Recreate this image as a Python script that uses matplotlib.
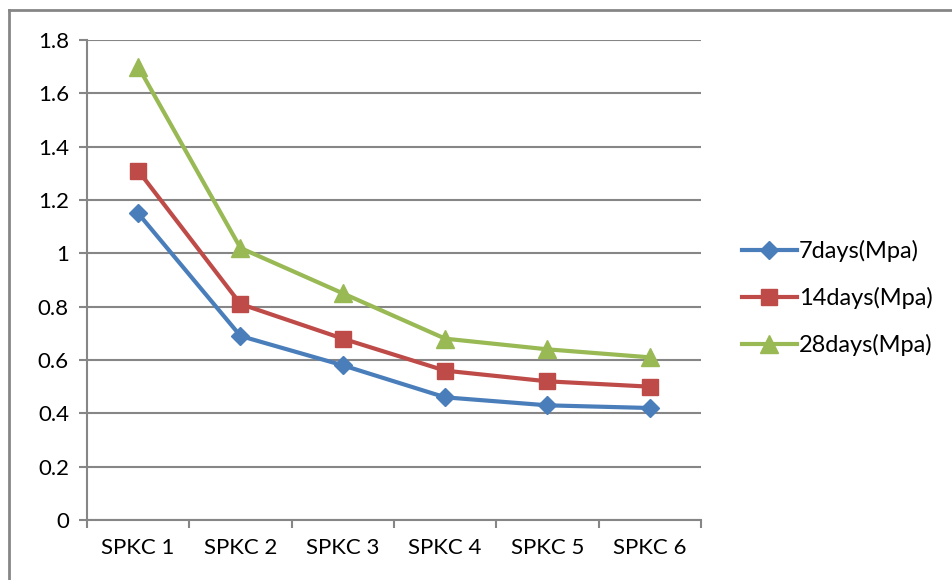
import numpy as np
import matplotlib.pyplot as plt
from matplotlib.lines import Line2D

plt.rcParams['font.family'] = ['Lato', 'DejaVu Sans']

categories = ['SPKC 1', 'SPKC 2', 'SPKC 3', 'SPKC 4', 'SPKC 5', 'SPKC 6']
days7 = [1.15, 0.69, 0.58, 0.46, 0.43, 0.42]
days14 = [1.31, 0.81, 0.68, 0.56, 0.52, 0.50]
days28 = [1.70, 1.02, 0.85, 0.68, 0.64, 0.61]
series_names = ['7days(Mpa)', '14days(Mpa)', '28days(Mpa)']
yticks = [0, 0.2, 0.4, 0.6, 0.8, 1, 1.2, 1.4, 1.6, 1.8]

fig = plt.figure(figsize=(9.53, 5.8), dpi=100)
ax = fig.add_axes([87/953, 1-520/580, (701-87)/953, (520-40)/580])

x = np.arange(len(categories))
ax.plot(x, days7, color='#4A7EBB', lw=3, marker='D', ms=9, label=series_names[0])
ax.plot(x, days14, color='#BE4B48', lw=3, marker='s', ms=12, label=series_names[1])
ax.plot(x, days28, color='#98B954', lw=3, marker='^', ms=13, label=series_names[2])

ax.set_xlim(-0.5, len(categories) - 0.5)
ax.set_ylim(0, 1.8)
ax.set_yticks(yticks)
ax.set_yticklabels([f'{v:g}' for v in yticks], fontsize=16)
ax.set_xticks(x)
ax.set_xticklabels(categories, fontsize=16)
ax.set_xticks(np.arange(-0.5, len(categories)), minor=True)
ax.tick_params(axis='x', which='major', length=0, pad=13)
ax.tick_params(axis='x', which='minor', length=6, width=1.5, color='#868686', direction='out')
ax.tick_params(axis='y', length=6, width=1.5, color='#868686', direction='out', pad=7)
ax.grid(axis='y', color='#868686', lw=1.5)
ax.set_axisbelow(True)
for s in ['top', 'right']:
    ax.spines[s].set_visible(False)
for s in ['left', 'bottom']:
    ax.spines[s].set_color('#868686')
    ax.spines[s].set_linewidth(1.5)

ax.legend(loc='center left', bbox_to_anchor=(721/953, 1-298/580), bbox_transform=fig.transFigure,
          frameon=False, fontsize=17, handlelength=2.3, labelspacing=1.05, handletextpad=0.1)

# outer chart border (left and top only visible)
fig.add_artist(Line2D([9/953, 9/953], [0, 1-10/580], transform=fig.transFigure, color='#868686', lw=2))
fig.add_artist(Line2D([9/953, 952/953], [1-10/580, 1-10/580], transform=fig.transFigure, color='#868686', lw=2))

fig.savefig('out.png', dpi=100)
